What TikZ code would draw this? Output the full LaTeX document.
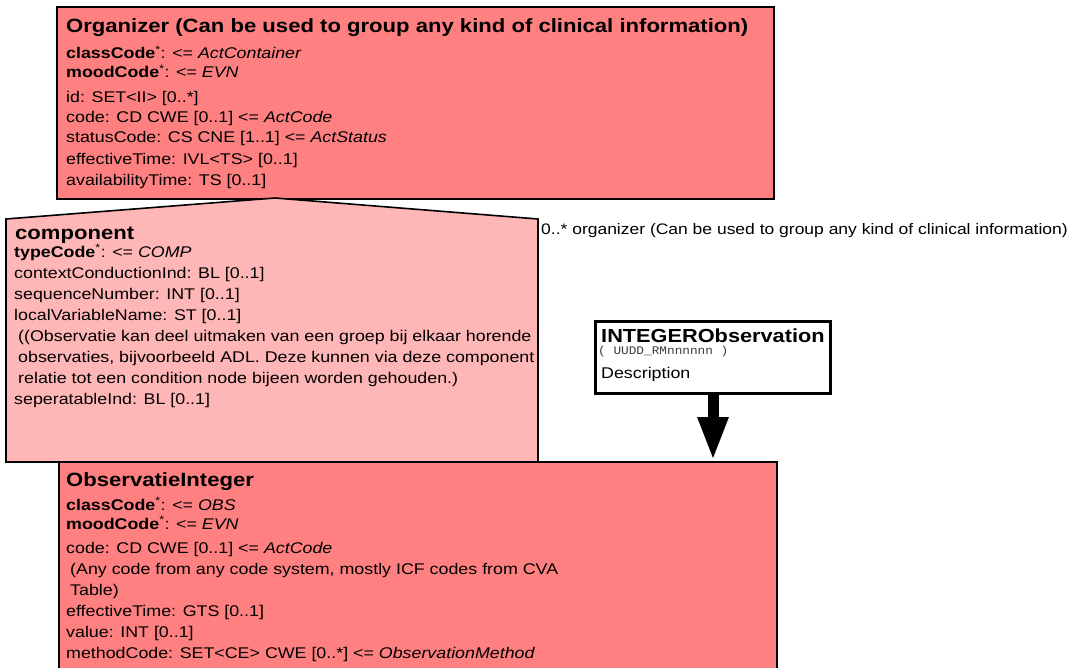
\documentclass[tikz,border=0pt]{standalone}
\usepackage{fontspec}
\setmainfont[FakeStretch=1.15]{Liberation Sans}
\newfontfamily\codefont[FakeStretch=1.1]{Liberation Mono}
\usetikzlibrary{arrows.meta}
\definecolor{actred}{RGB}{255,128,128}
\definecolor{comppink}{RGB}{255,182,182}
\definecolor{codegray}{RGB}{60,60,60}
\begin{document}
\begin{tikzpicture}[x=1pt,y=-1pt,
  box/.style={draw=black,line width=1.6pt,inner sep=0pt},
  ttl/.style={anchor=base west,inner sep=0pt,font=\fontsize{19.2}{22}\selectfont\bfseries},
  ln/.style={anchor=base west,inner sep=0pt,font=\fontsize{15.5}{18}\selectfont},
  code/.style={anchor=base west,inner sep=0pt,text=codegray,font=\codefont\fontsize{11.6}{13}\selectfont},
  bigarrow/.style={line width=11pt,-{Triangle[length=44pt,width=28pt]}}]
\useasboundingbox (0,0) rectangle (1075,668);
% boxes
\node[box,fill=actred,anchor=north west,minimum width=717pt,minimum height=192pt] (org) at (56,6) {};
\node[box,fill=actred,anchor=north west,minimum width=718pt,minimum height=230pt] (obs) at (58,461) {};
\draw[box,fill=comppink] (6,219) -- (275,198) -- (538,219) -- (538,462) -- (6,462) -- cycle;
\node[box,line width=3pt,fill=white,anchor=north west,minimum width=235pt,minimum height=72pt] (iobs) at (594,320) {};
% arrow
\draw[bigarrow] (iobs.south) -- (iobs.south |- obs.north);
% Organizer text
\node[ttl] (orgT) at (66,33) {Organizer (Can be used to group any kind of clinical information)};
\node[ln] (o1) at (66,59) {\textbf{classCode}\textsuperscript{*}: <= \textit{ActContainer}};
\node[ln] (o2) at (66,78) {\textbf{moodCode}\textsuperscript{*}: <= \textit{EVN}};
\node[ln] (o3) at (66,102.5) {id: SET<II> [0..*]};
\node[ln] (o4) at (66,122.5) {code: CD CWE [0..1] <= \textit{ActCode}};
\node[ln] (o5) at (66,143) {statusCode: CS CNE [1..1] <= \textit{ActStatus}};
\node[ln] (o6) at (66,164.5) {effectiveTime: IVL<TS> [0..1]};
\node[ln] (o7) at (66,185.5) {availabilityTime: TS [0..1]};
% component text
\node[ttl] (cT) at (15,240) {component};
\node[ln] (c1) at (14,257) {\textbf{typeCode}\textsuperscript{*}: <= \textit{COMP}};
\node[ln] (c2) at (14,278) {contextConductionInd: BL [0..1]};
\node[ln] (c3) at (14,299) {sequenceNumber: INT [0..1]};
\node[ln] (c4) at (14,320) {localVariableName: ST [0..1]};
\node[ln] (c5) at (18,341) {((Observatie kan deel uitmaken van een groep bij elkaar horende};
\node[ln] (c6) at (18,362) {observaties, bijvoorbeeld ADL. Deze kunnen via deze component};
\node[ln] (c7) at (18,383) {relatie tot een condition node bijeen worden gehouden.)};
\node[ln] (c8) at (14,404) {seperatableInd: BL [0..1]};
% association label
\node[ln,font=\fontsize{15.2}{18}\selectfont] (lbl) at (541,234) {0..* organizer (Can be used to group any kind of clinical information)};
% INTEGERObservation text
\node[ttl,font=\fontsize{18.9}{22}\selectfont\bfseries] (iT) at (601,342) {INTEGERObservation};
\node[code] (iC) at (598,354) {( UUDD\_RMnnnnnn )};
\node[ln] (iD) at (601,378) {Description};
% ObservatieInteger text
\node[ttl] (obT) at (66,486) {ObservatieInteger};
\node[ln] (b1) at (66,510) {\textbf{classCode}\textsuperscript{*}: <= \textit{OBS}};
\node[ln] (b2) at (66,529) {\textbf{moodCode}\textsuperscript{*}: <= \textit{EVN}};
\node[ln] (b3) at (66,553) {code: CD CWE [0..1] <= \textit{ActCode}};
\node[ln] (b4) at (70,574) {(Any code from any code system, mostly ICF codes from CVA};
\node[ln] (b5) at (70,595) {Table)};
\node[ln] (b6) at (66,616) {effectiveTime: GTS [0..1]};
\node[ln] (b7) at (66,637) {value: INT [0..1]};
\node[ln] (b8) at (66,658) {methodCode: SET<CE> CWE [0..*] <= \textit{ObservationMethod}};
\end{tikzpicture}
\end{document}
